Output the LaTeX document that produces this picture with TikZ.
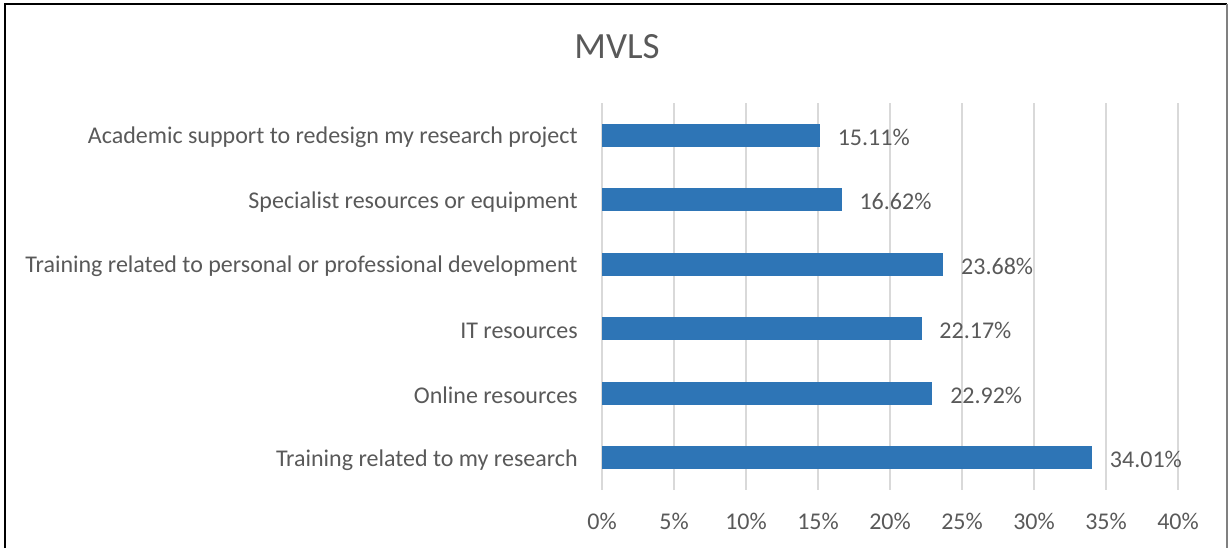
\documentclass[tikz,border=0pt]{standalone}
\usepackage{fontspec}
\setmainfont{Carlito}
\usepackage{xcolor}
\usetikzlibrary{positioning}
\definecolor{barblue}{HTML}{2E75B6}
\definecolor{txtgrey}{HTML}{595959}
\definecolor{gridgrey}{HTML}{D9D9D9}

\begin{document}
\begin{tikzpicture}[x=0.5pt,y=-0.5pt,font=\fontsize{12}{14}\selectfont,text=txtgrey,
  bar/.style={fill=barblue,inner sep=0pt,minimum height=11.5pt,anchor=west}]
\useasboundingbox (0,0) rectangle (1228,548);
\draw[line width=1.2pt] (5,548) -- (5,4) -- (1227,4);
\draw[gray,line width=0.6pt] (1227,4) -- (1227,548);
\node (title) at (617,47) {\fontsize{18.5}{22}\selectfont MVLS};
% grid and axis
\foreach \i in {0,...,8} {
  \draw[gridgrey,line width=1pt] (602+72*\i,103) -- (602+72*\i,490);
  \pgfmathtruncatemacro{\pc}{5*\i}
  \node (tick\i) at (602+72*\i,521) {\pc\%};
}
% bars
\foreach \lab/\val [count=\k] in {Academic support to redesign my research project/15.11,
  Specialist resources or equipment/16.62,
  Training related to personal or professional development/23.68,
  IT resources/22.17,
  Online resources/22.92,
  Training related to my research/34.01} {
  \pgfmathsetmacro{\w}{7.2*\val}
  \node[bar,minimum width=\w pt] (bar\k) at (602,135.25+64.5*\k-64.5) {};
  \node[anchor=east,inner sep=0pt] (cat\k) at (578,137.5+64.5*\k-64.5) {\lab};
  \node[right=8.5pt of bar\k,inner sep=0pt,yshift=-1pt] (val\k) {\val\%};
}
\end{tikzpicture}
\end{document}
